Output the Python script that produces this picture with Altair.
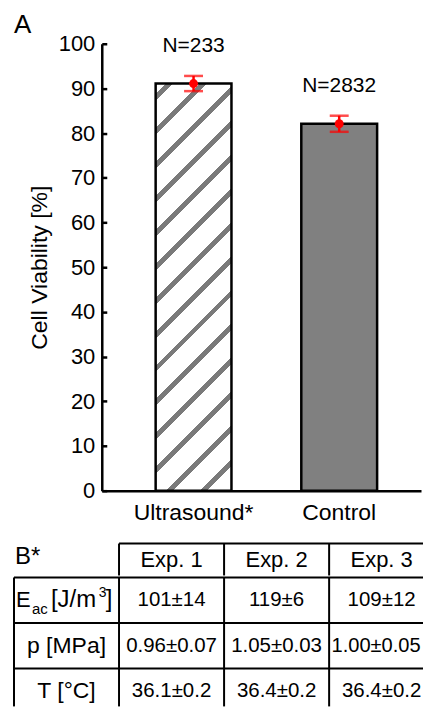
import altair as alt
import pandas as pd

# ---------------- data ----------------
categories = ["Ultrasound*", "Control"]
viability_mean = [91.1, 82.1]
viability_err = [1.7, 1.8]
n_labels = ["N=233", "N=2832"]
y_tick_values = [0, 10, 20, 30, 40, 50, 60, 70, 80, 90, 100]

table_headers = ["Exp. 1", "Exp. 2", "Exp. 3"]
e_label_parts = ["E", "ac", "[J/m", "3", "]"]
row_labels = ["", "p [MPa]", "T [°C]"]
e_ac_values = ["101±14", "119±6", "109±12"]
p_values = ["0.96±0.07", "1.05±0.03", "1.00±0.05"]
t_values = ["36.1±0.2", "36.4±0.2", "36.4±0.2"]

# ---------------- layout / style constants ----------------
FONT = "Liberation Sans"
PLOT_W, PLOT_H = 320, 448
BAR_W, STEP, LEFT_GAP = 76, 146, 54
PI = 1 - BAR_W / STEP
PO = (PLOT_W / STEP - 2 + PI) / 2
ALIGN = LEFT_GAP / (PLOT_W - STEP * (2 - PI))

TABLE_X0, COL_W = -88, 105.3
TABLE_PANEL_W = 322            # the figure is cropped through the last column
HEADER_H, ROW_H = 32, 45.67
LAST_ROW_VISIBLE = 0.83        # ... and through the last row
VALUE_FS = 20.5

GRAY = "#808080"
STRIPE_GRAY = "#7a7a7a"
RED = "#ff0000"

# approximate Liberation Sans advance widths (em) for fitting the cropped column
_W = {".": 0.278, "±": 0.584}


def text_em(s):
    return sum(_W.get(ch, 0.556) for ch in s)


# hatch pattern for the ultrasound bar, built as a hard-stop linear gradient
bw = BAR_W
bh = PLOT_H * viability_mean[0] / 100
PERIOD, STRIPE, PHASE = 34.0, 7.0, 10.5
k = int((bw + bh) / PERIOD) + 2
L = k * PERIOD
den = bw * bw + bh * bh
stops = [{"offset": 0.0, "color": "white"}]
for j in range(k):
    a = (PHASE + j * PERIOD) / L
    b = (PHASE + j * PERIOD + STRIPE) / L
    if b >= 1:
        break
    stops += [
        {"offset": a, "color": "white"},
        {"offset": a, "color": STRIPE_GRAY},
        {"offset": b, "color": STRIPE_GRAY},
        {"offset": b, "color": "white"},
    ]
stops.append({"offset": 1.0, "color": "white"})
hatch = {
    "gradient": "linear",
    "x1": 0, "y1": 0,
    "x2": L * bw / den, "y2": L * bh / den,
    "stops": stops,
}

# ---------------- panel A: bar chart ----------------
bar_df = pd.DataFrame({
    "cat": categories,
    "mean": viability_mean,
    "err": viability_err,
    "n": n_labels,
})
bar_df["lo"] = bar_df["mean"] - bar_df["err"]
bar_df["hi"] = bar_df["mean"] + bar_df["err"]

xs = alt.Scale(domain=categories, paddingInner=PI, paddingOuter=PO, align=ALIGN)
ys = alt.Scale(domain=[0, 100], nice=False)

x_axis = alt.Axis(
    title=None, labelAngle=0, ticks=False, tickSize=0, labelPadding=11,
    labelFont=FONT, labelFontSize=23, labelColor="black",
    domainColor="black", domainWidth=2.5,
)
X = alt.X("cat:N", scale=xs, sort=categories, axis=x_axis)

left_axis = alt.Axis(
    orient="left", values=y_tick_values, ticks=False, tickSize=0, labelPadding=7,
    labelFont=FONT, labelFontSize=22, labelColor="black",
    domainColor="black", domainWidth=2.5, grid=False,
    title="Cell Viability [%]", titleFont=FONT, titleFontSize=23,
    titleFontWeight="normal", titleColor="black", titlePadding=7,
)
tick_axis = alt.Axis(
    orient="right", offset=-PLOT_W, values=y_tick_values, labels=False,
    domain=False, ticks=True, tickSize=5, tickWidth=2.5, tickColor="black",
    grid=False, title=None,
)

base = alt.Chart(bar_df)
hatched = base.transform_filter(alt.datum.cat == categories[0]).mark_bar(
    fill=hatch, stroke="black", strokeWidth=2.5
).encode(x=X, y=alt.Y("mean:Q", scale=ys, axis=left_axis))
solid = base.transform_filter(alt.datum.cat == categories[1]).mark_bar(
    fill=GRAY, stroke="black", strokeWidth=2.5
).encode(x=X, y=alt.Y("mean:Q", scale=ys, axis=None))
errs = base.mark_errorbar(ticks=True, size=19, thickness=2.5, color=RED).encode(
    x=X, y=alt.Y("lo:Q", scale=ys, axis=None), y2=alt.Y2("hi:Q")
)
dots = base.mark_point(filled=True, size=80, color=RED, opacity=1).encode(
    x=X, y=alt.Y("mean:Q", scale=ys, axis=tick_axis)
)
ntext = base.mark_text(font=FONT, fontSize=21, color="black", baseline="middle", dy=-30).encode(
    x=X, y=alt.Y("hi:Q", scale=ys, axis=None), text="n:N"
)

panel_a = alt.layer(hatched, solid, errs, dots, ntext).resolve_axis(y="independent").properties(
    width=PLOT_W, height=PLOT_H,
    title=alt.TitleParams("A", anchor="start", frame="group", dx=TABLE_X0, dy=5, offset=0,
                          font=FONT, fontSize=26, fontWeight="normal", color="black"),
)

# ---------------- panel B: table ----------------
ncols = len(table_headers) + 1
tx = alt.Scale(domain=[0, ncols], range=[TABLE_X0, TABLE_X0 + ncols * COL_W], nice=False)
x_end = ncols - 1 + (TABLE_PANEL_W - (TABLE_X0 + (ncols - 1) * COL_W)) / COL_W
last_vis_px = (x_end - (ncols - 1)) * COL_W
LINE_W = 2

# header row
hy = alt.Scale(domain=[0, 1], reverse=True, nice=False)
hdr_df = pd.DataFrame({"label": table_headers})
hdr_df["xc"] = [i + 1.5 for i in range(len(table_headers))]
hdr_df["yc"] = 0.5
hdr_text = alt.Chart(hdr_df).mark_text(font=FONT, fontSize=22, color="black", baseline="middle").encode(
    x=alt.X("xc:Q", scale=tx, axis=None), y=alt.Y("yc:Q", scale=hy, axis=None), text="label:N"
)
b_df = pd.DataFrame({"label": ["B*"], "x": [0], "yc": [0.5]})
b_text = alt.Chart(b_df).mark_text(font=FONT, fontSize=24, color="black", baseline="middle",
                                   align="left", dx=1, dy=-3).encode(
    x=alt.X("x:Q", scale=tx, axis=None), y=alt.Y("yc:Q", scale=hy, axis=None), text="label:N"
)
hv_df = pd.DataFrame({"x": list(range(1, ncols)), "y0": 0, "y1": 1})
hdr_vlines = alt.Chart(hv_df).mark_rule(color="black", strokeWidth=LINE_W).encode(
    x=alt.X("x:Q", scale=tx, axis=None), y=alt.Y("y0:Q", scale=hy, axis=None), y2="y1:Q"
)
ht_df = pd.DataFrame({"x0": [1], "x1": [x_end], "y": [0]})
hdr_top = alt.Chart(ht_df).mark_rule(color="black", strokeWidth=LINE_W).encode(
    x=alt.X("x0:Q", scale=tx, axis=None), x2="x1:Q", y=alt.Y("y:Q", scale=hy, axis=None)
)
header = alt.layer(hdr_vlines, hdr_top, b_text, hdr_text).properties(
    width=TABLE_PANEL_W, height=HEADER_H
)

# body rows (last one cropped by the figure edge)
nrows = 3
y_end = nrows - 1 + LAST_ROW_VISIBLE
by = alt.Scale(domain=[0, y_end], reverse=True, nice=False)
values = [e_ac_values, p_values, t_values]
cells = []
for r, vals in enumerate(values):
    for c, v in enumerate(vals):
        xc, fs = c + 1.5, VALUE_FS
        right_edge = TABLE_X0 + (c + 1.5) * COL_W + text_em(v) * fs / 2
        if right_edge > TABLE_PANEL_W - 1:
            # text would run past the cropped edge: centre it in the visible part and shrink
            xc = (ncols - 1) + (x_end - (ncols - 1)) / 2
            fs = min(VALUE_FS, (last_vis_px - 4) / text_em(v))
        cells.append({"label": v, "xc": xc, "yc": r + 0.5, "fs": fs})
cell_df = pd.DataFrame(cells)
cell_text = alt.Chart(cell_df).mark_text(font=FONT, color="black", baseline="middle").encode(
    x=alt.X("xc:Q", scale=tx, axis=None), y=alt.Y("yc:Q", scale=by, axis=None), text="label:N",
    size=alt.Size("fs:Q", scale=None, legend=None),
)
rl_df = pd.DataFrame({"label": row_labels[1:], "xc": 0.5, "yc": [r + 0.5 for r in range(1, nrows)]})
row_text = alt.Chart(rl_df).mark_text(font=FONT, fontSize=23, color="black", baseline="middle").encode(
    x=alt.X("xc:Q", scale=tx, axis=None), y=alt.Y("yc:Q", scale=by, axis=None), text="label:N"
)
# E_ac [J/m^3] label, piece by piece (subscript / superscript)
e_styles = [
    dict(fontSize=22, dx=2, dy=0),
    dict(fontSize=15, dx=18, dy=9),
    dict(fontSize=24, dx=37, dy=0),
    dict(fontSize=14, dx=85, dy=-7),
    dict(fontSize=24, dx=92, dy=0),
]
e_layers = []
for part, st in zip(e_label_parts, e_styles):
    pdf = pd.DataFrame({"label": [part], "x": [0], "yc": [0.5]})
    e_layers.append(
        alt.Chart(pdf).mark_text(font=FONT, color="black", baseline="middle", align="left", **st).encode(
            x=alt.X("x:Q", scale=tx, axis=None), y=alt.Y("yc:Q", scale=by, axis=None), text="label:N"
        )
    )
bh_df = pd.DataFrame({"y": list(range(0, nrows)), "x0": 0, "x1": x_end})
body_h = alt.Chart(bh_df).mark_rule(color="black", strokeWidth=LINE_W).encode(
    x=alt.X("x0:Q", scale=tx, axis=None), x2="x1:Q", y=alt.Y("y:Q", scale=by, axis=None)
)
bv_df = pd.DataFrame({"x": list(range(0, ncols)), "y0": 0, "y1": y_end})
body_v = alt.Chart(bv_df).mark_rule(color="black", strokeWidth=LINE_W).encode(
    x=alt.X("x:Q", scale=tx, axis=None), y=alt.Y("y0:Q", scale=by, axis=None), y2="y1:Q"
)
body = alt.layer(body_h, body_v, cell_text, row_text, *e_layers).properties(
    width=TABLE_PANEL_W, height=ROW_H * y_end
)

table = alt.vconcat(header, body, spacing=0)

chart = alt.vconcat(panel_a, table, spacing=18).properties(
    padding={"left": 5, "top": 3, "right": 0, "bottom": 0}
).configure(background="white", view=alt.ViewConfig(stroke=None))

chart.save("out.html", embed_options={"renderer": "svg", "actions": False})
